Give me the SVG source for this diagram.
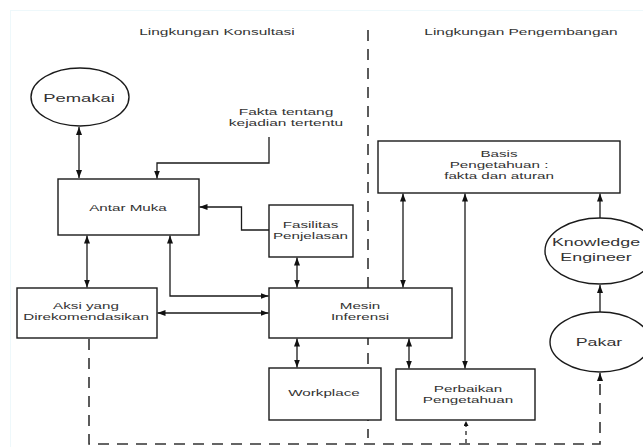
<svg xmlns="http://www.w3.org/2000/svg" width="643" height="447" viewBox="0 0 643 447">
<style>
.bg{fill:#ffffff}
.frame{fill:none;stroke:#eef8fb;stroke-width:1}
.box{fill:#ffffff;stroke:#1a1a1a;stroke-width:1.4}
.ell{fill:#ffffff;stroke:#1a1a1a;stroke-width:1.4}
.ln{fill:none;stroke:#1a1a1a;stroke-width:1.3}
.dash{fill:none;stroke:#333333;stroke-width:1.6;stroke-dasharray:11 8}
.dashs{fill:none;stroke:#333333;stroke-width:1.4;stroke-dasharray:4 4}
.t{font-family:"Liberation Sans",Arial,sans-serif;font-size:9.8px;fill:#333333;text-anchor:middle}
.te{font-family:"Liberation Sans",Arial,sans-serif;font-size:11.5px;fill:#333333;text-anchor:middle}
</style>
<defs>
<marker id="ah" viewBox="0 0 8 6" refX="8" refY="3" markerWidth="8" markerHeight="6" markerUnits="userSpaceOnUse" orient="auto-start-reverse">
<path d="M0,0 L8,3 L0,6 z" fill="#111111"/>
</marker>
<marker id="ahs" viewBox="0 0 6 6" refX="6" refY="3" markerWidth="6" markerHeight="5" markerUnits="userSpaceOnUse" orient="auto-start-reverse">
<path d="M0,0 L6,3 L0,6 z" fill="#111111"/>
</marker>
</defs>
<rect class="bg" x="0" y="0" width="643" height="447"/>
<rect class="frame" x="10.5" y="10.5" width="640" height="440"/>

<g id="labels">
<text class="t" transform="translate(217 35) scale(1.58 1)">Lingkungan Konsultasi</text>
<text class="t" transform="translate(521 35) scale(1.58 1)">Lingkungan Pengembangan</text>
<text class="t" transform="translate(286 0) scale(1.58 1)"><tspan x="0" y="115">Fakta tentang</tspan><tspan x="0" y="126">kejadian tertentu</tspan></text>
</g>

<g id="connectors">
<path class="ln" d="M79,127 V178" marker-start="url(#ah)" marker-end="url(#ah)"/>
<path class="ln" d="M269,137 V163 H157 V178.5" marker-end="url(#ah)"/>
<path class="ln" d="M269,230 H241.5 V207 H199.5" marker-end="url(#ah)"/>
<path class="ln" d="M87,235.5 V287.5" marker-start="url(#ah)" marker-end="url(#ah)"/>
<path class="ln" d="M170,235.5 V296 H268.5" marker-start="url(#ah)" marker-end="url(#ah)"/>
<path class="ln" d="M157.5,313 H268.5" marker-start="url(#ah)" marker-end="url(#ah)"/>
<path class="ln" d="M297,257.5 V287.5" marker-start="url(#ah)" marker-end="url(#ah)"/>
<path class="ln" d="M297,338.5 V367.5" marker-start="url(#ah)" marker-end="url(#ah)"/>
<path class="ln" d="M409,338.5 V368.5" marker-start="url(#ah)" marker-end="url(#ah)"/>
<path class="ln" d="M403,193.5 V287.5" marker-start="url(#ah)" marker-end="url(#ah)"/>
<path class="ln" d="M465,193.5 V368.5" marker-start="url(#ah)" marker-end="url(#ah)"/>
<path class="ln" d="M600,218 V193.5" marker-end="url(#ah)"/>
<path class="ln" d="M600,313 V285" marker-end="url(#ah)"/>
<path class="dash" d="M89,339 V444 H600 V373" marker-end="url(#ah)"/>
<path class="dashs" d="M466,443 V421" marker-end="url(#ahs)"/>
<path class="dash" d="M368,30 V438"/>
</g>

<g id="pemakai">
<ellipse class="ell" cx="80" cy="97" rx="49" ry="29"/>
<text class="te" transform="translate(79 101.5) scale(1.6 1)">Pemakai</text>
</g>
<g id="antar-muka">
<rect class="box" x="58" y="179" width="141" height="56"/>
<text class="t" transform="translate(128 210.5) scale(1.55 1)">Antar Muka</text>
</g>
<g id="fasilitas-penjelasan">
<rect class="box" x="269" y="205" width="84" height="52"/>
<text class="t" transform="translate(310.5 0) scale(1.55 1)"><tspan x="0" y="228">Fasilitas</tspan><tspan x="0" y="239.5">Penjelasan</tspan></text>
</g>
<g id="aksi">
<rect class="box" x="17" y="288" width="140" height="50"/>
<text class="t" transform="translate(86 0) scale(1.55 1)"><tspan x="0" y="309">Aksi yang</tspan><tspan x="0" y="320">Direkomendasikan</tspan></text>
</g>
<g id="mesin-inferensi">
<rect class="box" x="269" y="288" width="183" height="50"/>
<text class="t" transform="translate(360 0) scale(1.55 1)"><tspan x="0" y="309">Mesin</tspan><tspan x="0" y="320.5">Inferensi</tspan></text>
</g>
<g id="workplace">
<rect class="box" x="269" y="368" width="112" height="52"/>
<text class="t" transform="translate(324 396) scale(1.55 1)">Workplace</text>
</g>
<g id="basis-pengetahuan">
<rect class="box" x="378" y="141" width="242" height="52"/>
<text class="t" transform="translate(499 0) scale(1.55 1)"><tspan x="0" y="157">Basis</tspan><tspan x="0" y="168">Pengetahuan :</tspan><tspan x="0" y="179">fakta dan aturan</tspan></text>
</g>
<g id="perbaikan-pengetahuan">
<rect class="box" x="396" y="369" width="139" height="51"/>
<text class="t" transform="translate(468 0) scale(1.55 1)"><tspan x="0" y="392">Perbaikan</tspan><tspan x="0" y="403">Pengetahuan</tspan></text>
</g>
<g id="knowledge-engineer">
<ellipse class="ell" cx="600" cy="251" rx="55" ry="33"/>
<text class="te" transform="translate(596 0) scale(1.55 1)"><tspan x="0" y="246.5">Knowledge</tspan><tspan x="0" y="261">Engineer</tspan></text>
</g>
<g id="pakar">
<ellipse class="ell" cx="600" cy="342" rx="50" ry="30"/>
<text class="te" transform="translate(599 345.5) scale(1.55 1)">Pakar</text>
</g>
</svg>
